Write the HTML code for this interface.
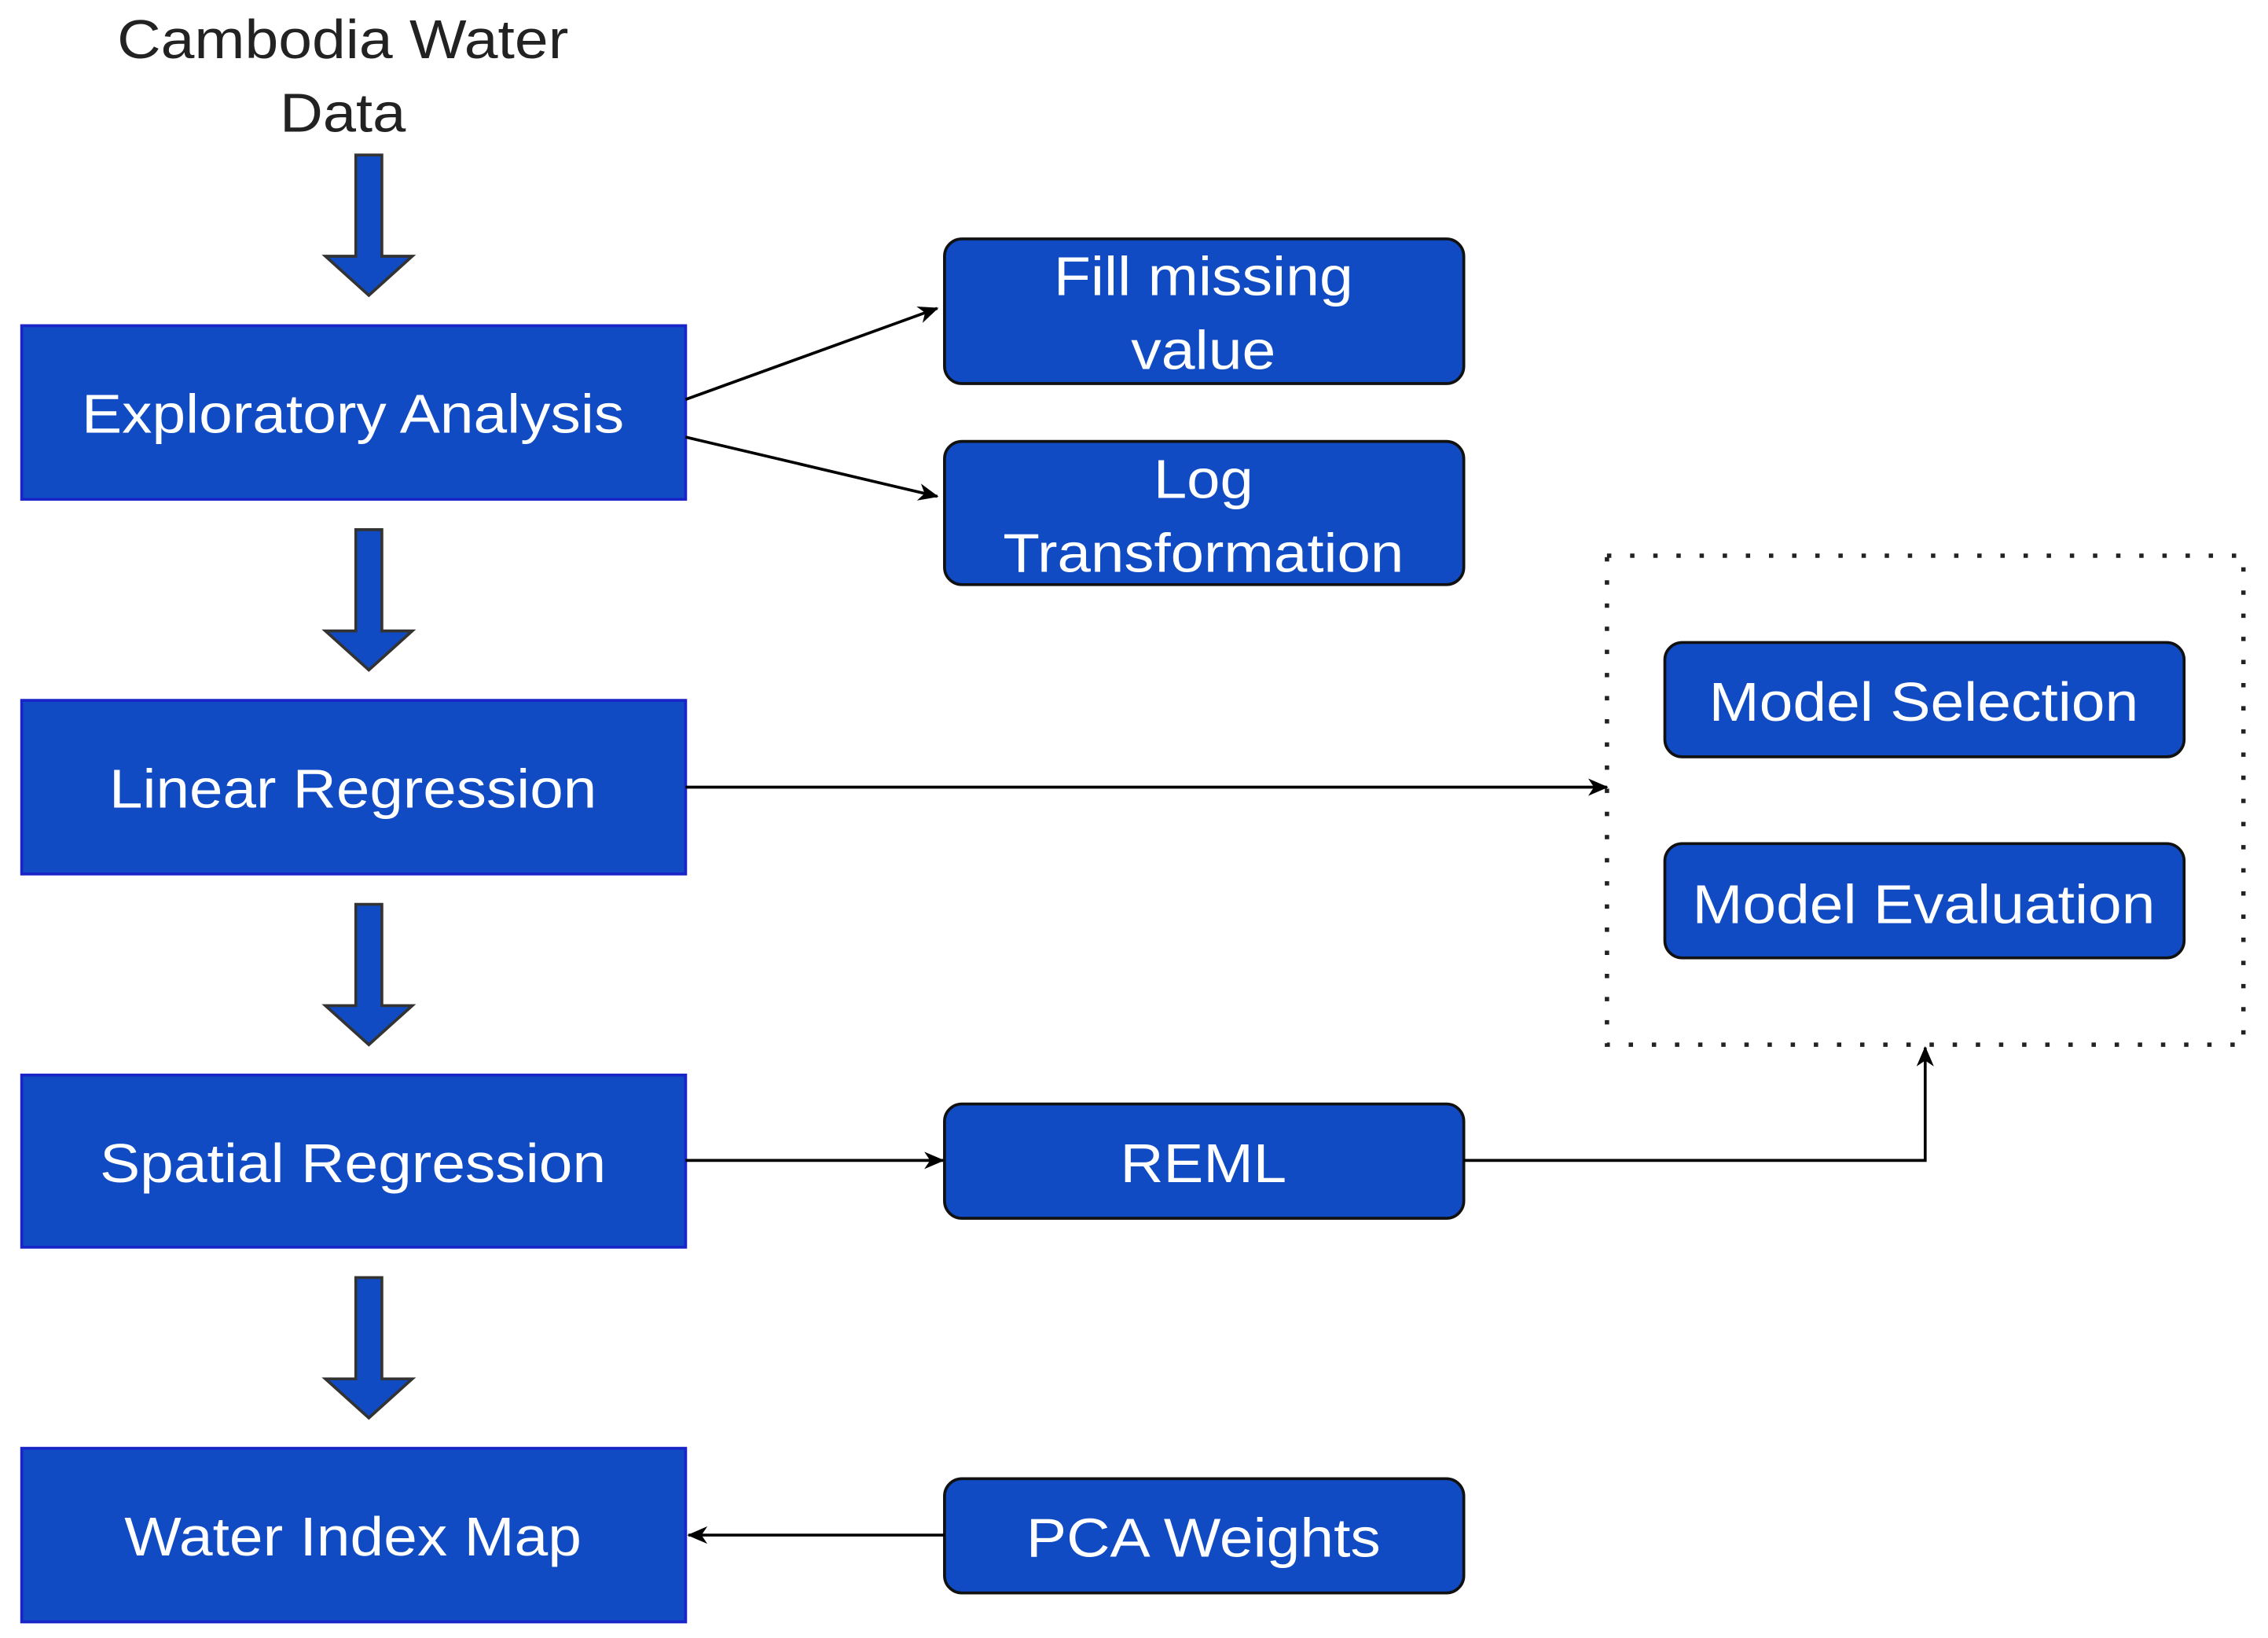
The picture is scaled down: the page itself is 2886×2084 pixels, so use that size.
<!DOCTYPE html>
<html><head><meta charset="utf-8"><style>html,body{margin:0;padding:0;background:#fff}svg{display:block}</style></head>
<body>
<svg width="2886" height="2084" viewBox="0 0 1568 1132" xmlns="http://www.w3.org/2000/svg" font-family="Liberation Sans, Arial, sans-serif">
<defs>
<marker id="ah" markerWidth="14" markerHeight="12" refX="13" refY="6" orient="auto" markerUnits="userSpaceOnUse"><path d="M0,0 L14,6 L0,12 L4,6 z" fill="#000"/></marker>
<g id="barrow"><path d="M-9,0 H9 V70 H30 L0,97 L-30,70 H-9 Z" fill="#104bc4" stroke="#333" stroke-width="2"/></g>
</defs>
<g font-size="38" text-anchor="middle" fill="#222" lengthAdjust="spacingAndGlyphs">
<text x="237" y="40" textLength="312" lengthAdjust="spacingAndGlyphs">Cambodia Water</text>
<text x="237" y="91" textLength="87" lengthAdjust="spacingAndGlyphs">Data</text>
</g>
<use href="#barrow" x="255" y="107"/>
<use href="#barrow" x="255" y="366"/>
<use href="#barrow" x="255" y="625"/>
<use href="#barrow" x="255" y="883"/>
<g fill="#104bc4" stroke="#1a25c8" stroke-width="2">
<rect x="15" y="225" width="459" height="120"/>
<rect x="15" y="484" width="459" height="120"/>
<rect x="15" y="743" width="459" height="119"/>
<rect x="15" y="1001" width="459" height="120"/>
</g>
<g fill="#104bc4" stroke="#111" stroke-width="2">
<rect x="653" y="165" width="359" height="100" rx="12"/>
<rect x="653" y="305" width="359" height="99" rx="12"/>
<rect x="653" y="763" width="359" height="79" rx="12"/>
<rect x="653" y="1022" width="359" height="79" rx="12"/>
<rect x="1151" y="444" width="359" height="79" rx="12"/>
<rect x="1151" y="583" width="359" height="79" rx="12"/>
</g>
<rect x="1111" y="384" width="440" height="338" fill="none" stroke="#222" stroke-width="3" stroke-dasharray="3 13" stroke-linecap="butt"/>
<g font-size="38" fill="#fff" text-anchor="middle">
<text x="244" y="299" textLength="375" lengthAdjust="spacingAndGlyphs">Exploratory Analysis</text>
<text x="244" y="558" textLength="337" lengthAdjust="spacingAndGlyphs">Linear Regression</text>
<text x="244" y="817" textLength="350" lengthAdjust="spacingAndGlyphs">Spatial Regression</text>
<text x="244" y="1075" textLength="316" lengthAdjust="spacingAndGlyphs">Water Index Map</text>
<text x="832" y="204" textLength="207" lengthAdjust="spacingAndGlyphs">Fill missing</text>
<text x="832" y="255" textLength="100" lengthAdjust="spacingAndGlyphs">value</text>
<text x="832" y="344" textLength="69" lengthAdjust="spacingAndGlyphs">Log</text>
<text x="832" y="395" textLength="277" lengthAdjust="spacingAndGlyphs">Transformation</text>
<text x="832" y="817" textLength="115" lengthAdjust="spacingAndGlyphs">REML</text>
<text x="832" y="1076" textLength="245" lengthAdjust="spacingAndGlyphs">PCA Weights</text>
<text x="1330" y="498" textLength="297" lengthAdjust="spacingAndGlyphs">Model Selection</text>
<text x="1330" y="638" textLength="320" lengthAdjust="spacingAndGlyphs">Model Evaluation</text>
</g>
<g stroke="#000" stroke-width="2" fill="none" marker-end="url(#ah)">
<line x1="474" y1="276" x2="648" y2="213"/>
<line x1="474" y1="302" x2="648" y2="343"/>
<line x1="474" y1="544" x2="1111" y2="544"/>
<line x1="474" y1="802" x2="652" y2="802"/>
<polyline points="1012,802 1331,802 1331,724"/>
<line x1="653" y1="1061" x2="476" y2="1061"/>
</g>
</svg>
</body></html>
